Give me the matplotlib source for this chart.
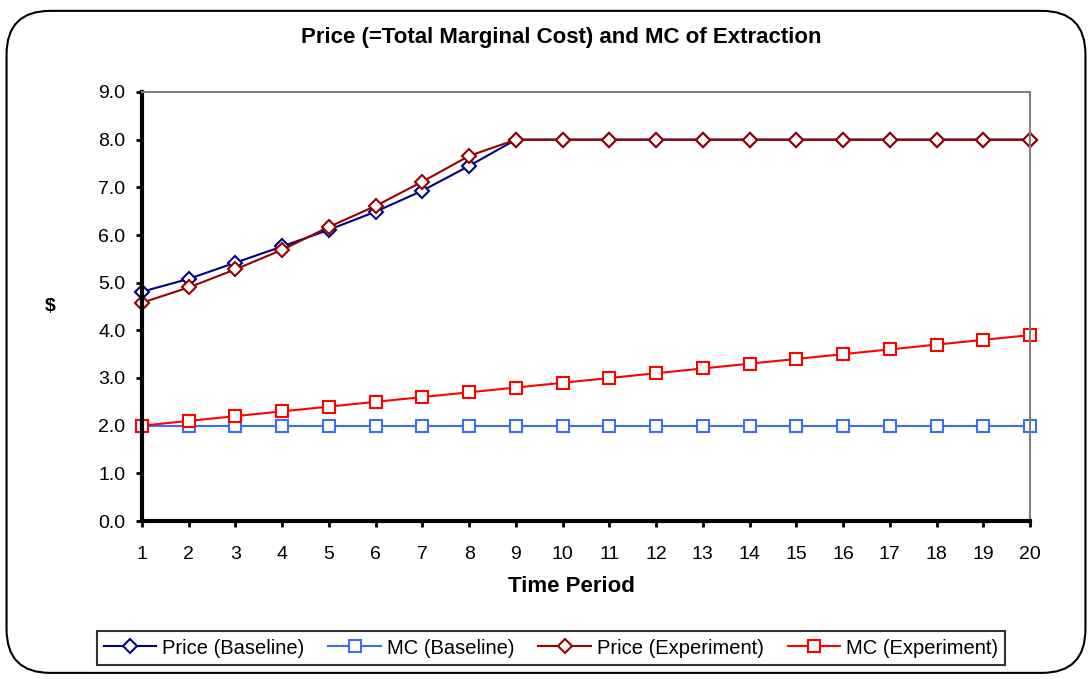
import matplotlib.pyplot as plt
from matplotlib.patches import FancyBboxPatch

plt.rcParams['font.family'] = ['Liberation Sans', 'DejaVu Sans']

periods = list(range(1, 21))
price_base = [4.81, 5.08, 5.42, 5.76, 6.11, 6.49, 6.93, 7.45] + [8.0] * 12
mc_base = [2.0] * 20
price_exp = [4.58, 4.90, 5.28, 5.69, 6.17, 6.61, 7.12, 7.66] + [8.0] * 12
mc_exp = [2.0, 2.1, 2.2, 2.3, 2.4, 2.5, 2.6, 2.7, 2.8, 2.9,
          3.0, 3.1, 3.2, 3.3, 3.4, 3.5, 3.6, 3.7, 3.8, 3.9]

W, H = 1092, 679
fig = plt.figure(figsize=(W / 100, H / 100), dpi=100)
# rounded outer frame
frame = FancyBboxPatch((0.006, 0.009), 0.988, 0.975, boxstyle='round,pad=0,rounding_size=0.04',
                       transform=fig.transFigure, fill=False, edgecolor='black', linewidth=1.5,
                       mutation_aspect=W / H)
fig.patches.append(frame)

ax = fig.add_axes([142 / W, 1 - 521 / H, 888 / W, 429 / H])

series = [
    (price_base, 'Price (Baseline)', '#000080', 'D'),
    (mc_base, 'MC (Baseline)', '#3a6ef5', 's'),
    (price_exp, 'Price (Experiment)', '#990000', 'D'),
    (mc_exp, 'MC (Experiment)', '#ff0000', 's'),
]
for vals, lab, col, mk in series:
    ms = 7 if mk == 'D' else 8
    ax.plot(periods, vals, color=col, marker=mk, markersize=ms, markerfacecolor='white',
            markeredgecolor=col, markeredgewidth=1.5, linewidth=1.5, label=lab, clip_on=False)

ax.set_xlim(1, 20)
ax.set_ylim(0, 9)
ax.set_xticks(periods)
ax.set_yticks([i for i in range(10)])
ax.set_yticklabels([f'{i:.1f}' for i in range(10)])
ax.tick_params(labelsize=14, direction='out', length=4, width=2)
ax.tick_params(axis='x', pad=14)
ax.tick_params(axis='y', pad=8)

ax.spines['left'].set_linewidth(3)
ax.spines['bottom'].set_linewidth(3)
ax.spines['top'].set_color('#808080')
ax.spines['right'].set_color('#808080')
ax.spines['top'].set_linewidth(1.5)
ax.spines['right'].set_linewidth(1.5)

fig.text(561 / W, 1 - 37 / H, 'Price (=Total Marginal Cost) and MC of Extraction', fontsize=16,
         fontweight='bold', ha='center', va='center')
fig.text(571 / W, 1 - 587 / H, 'Time Period', fontsize=16, fontweight='bold',
         ha='center', va='center')
fig.text(50 / W, 1 - 307 / H, '$', fontsize=14, fontweight='bold', ha='center', va='center')

leg = fig.legend(loc='center', bbox_to_anchor=(551 / W, 1 - 648 / H), ncol=4, fontsize=14.5,
                 frameon=True, fancybox=False, edgecolor='black', handlelength=2.6,
                 handletextpad=0.3, columnspacing=1.2, borderpad=0.35, borderaxespad=0)
leg.get_frame().set_linewidth(1.5)

fig.savefig('out.png', dpi=100)
